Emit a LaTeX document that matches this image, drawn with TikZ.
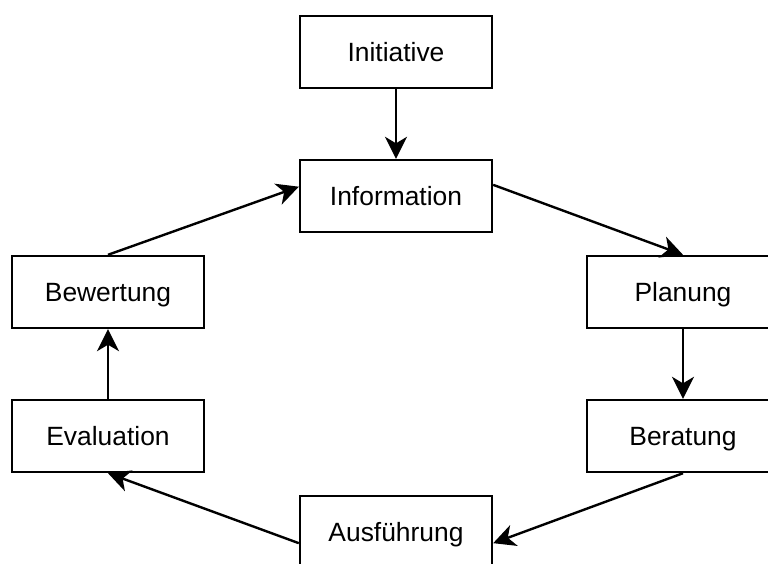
\documentclass[tikz,border=0pt]{standalone}
\usepackage{fontspec}
\setmainfont{Liberation Sans}
\usetikzlibrary{arrows.meta,calc}
\begin{document}
\begin{tikzpicture}[x=1pt,y=-1pt,
  box/.style={draw,line width=2.4pt,minimum width=192pt,minimum height=72pt,inner sep=0pt,
    font=\fontsize{26.4}{30}\selectfont,text height=18.9pt,text depth=0pt},
  arr/.style={line width=2.4pt,-{Stealth[length=22pt,width=22pt,inset=6.5pt]}}]
\useasboundingbox (0,0) rectangle (768,563);
\fill[white] (0,0) rectangle (768,563);
\clip (0,0) rectangle (768,563);
\node[box] (init) at (396,52) {Initiative};
\node[box] (info) at (396,196) {Information};
\node[box] (plan) at (683,292) {Planung};
\node[box] (bera) at (683,436) {Beratung};
\node[box] (ausf) at (396,532) {Ausführung};
\node[box] (eval) at (108,436) {Evaluation};
\node[box] (bew) at (108,292) {Bewertung};
\draw[arr] (init.south) -- (info.north);
\draw[arr] ($(info.north east)!0.35!(info.south east)$) -- (plan.north);
\draw[arr] (plan.south) -- (bera.north);
\draw[arr] (bera.south) -- ($(ausf.north east)!0.65!(ausf.south east)$);
\draw[arr] ($(ausf.north west)!0.65!(ausf.south west)$) -- (eval.south);
\draw[arr] (eval.north) -- (bew.south);
\draw[arr] (bew.north) -- ($(info.north west)!0.375!(info.south west)$);
\end{tikzpicture}
\end{document}
